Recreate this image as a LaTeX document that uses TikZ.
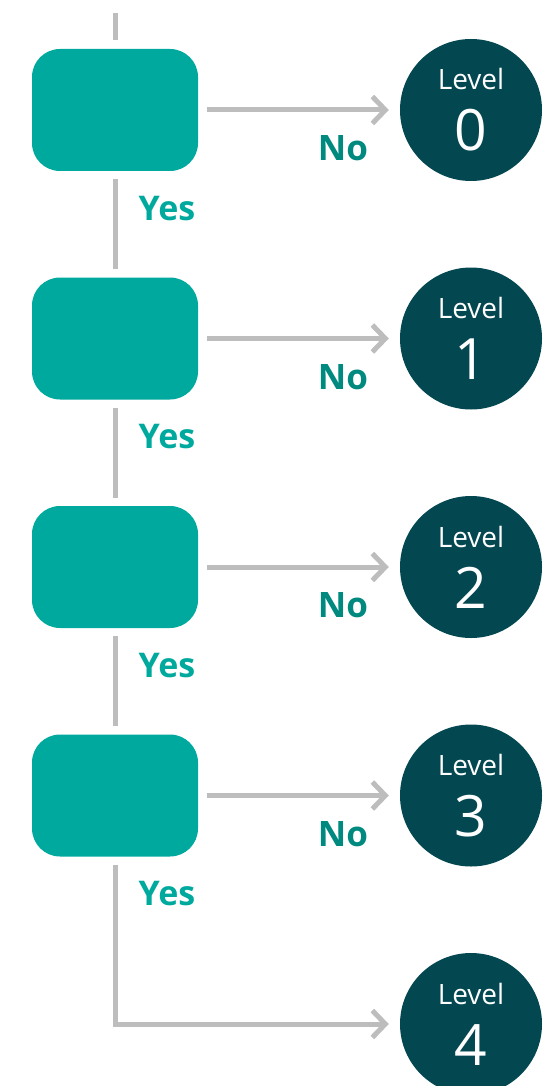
\documentclass[tikz,border=0pt]{standalone}
\usepackage{fontspec}
\setmainfont{Open Sans}
\usepackage{xcolor}
\usepackage{tikz}
\usetikzlibrary{positioning, arrows.meta}

\definecolor{boxteal}{HTML}{00A99D}
\definecolor{noteal}{HTML}{00897E}
\definecolor{leveldark}{HTML}{034751}
\definecolor{linegray}{HTML}{BDBDBD}

\begin{document}
\begin{tikzpicture}[
    >={Straight Barb[length=13pt, width=27pt]}, node distance=228.5pt, on grid,
    box/.style={rectangle, rounded corners=28pt, fill=boxteal, minimum width=166pt, minimum height=122pt},
    level/.style={circle, fill=leveldark, minimum size=142pt, inner sep=0pt, text=white, align=center, font=\fontsize{57}{61}\selectfont},
    conn/.style={draw=linegray, line width=5pt},
    nolabel/.style={text=noteal, font=\fontsize{35}{40}\selectfont\bfseries, inner sep=0pt},
    yeslabel/.style={text=boxteal, font=\fontsize{34}{40}\selectfont\bfseries, inner sep=0pt}
]
    \useasboundingbox (0,0) rectangle (554pt,-1086pt);

    \node[box] (q0) at (115pt,-110pt) {};
    \node[box] (q1) [below=of q0] {};
    \node[box] (q2) [below=of q1] {};
    \node[box] (q3) [below=of q2] {};

    \node[level] (l0) [right=356pt of q0] {{\fontsize{28}{61}\selectfont Level}\\0};
    \node[level] (l1) [below=of l0] {{\fontsize{28}{61}\selectfont Level}\\1};
    \node[level] (l2) [below=of l1] {{\fontsize{28}{61}\selectfont Level}\\2};
    \node[level] (l3) [below=of l2] {{\fontsize{28}{61}\selectfont Level}\\3};
    \node[level] (l4) [below=of l3] {{\fontsize{28}{61}\selectfont Level}\\4};

    \coordinate[above=97pt of q0] (top);

    % yes / no labels
    \node[nolabel] (n0) [below left=38.5pt and 128pt of l0] {No};
    \node[nolabel] (n1) [below left=38.5pt and 128pt of l1] {No};
    \node[nolabel] (n2) [below left=38.5pt and 128pt of l2] {No};
    \node[nolabel] (n3) [below left=38.5pt and 128pt of l3] {No};
    \node[yeslabel] (y0) [below right=98.5pt and 52pt of q0] {Yes};
    \node[yeslabel] (y1) [below right=98.5pt and 52pt of q1] {Yes};
    \node[yeslabel] (y2) [below right=98.5pt and 52pt of q2] {Yes};
    \node[yeslabel] (y3) [below right=98.5pt and 52pt of q3] {Yes};

    \draw[conn, shorten >=9pt] (top) -- (q0);
    \path[conn, shorten <=8pt, shorten >=8pt]
        (q0) edge (q1)
        (q1) edge (q2)
        (q2) edge (q3);
    \path[conn, ->, shorten <=9pt, shorten >=11pt]
        (q0) edge (l0)
        (q1) edge (l1)
        (q2) edge (l2)
        (q3) edge (l3);
    \draw[conn, ->, miter limit=10, shorten <=8pt, shorten >=11pt] (q3) |- (l4);
\end{tikzpicture}
\end{document}
